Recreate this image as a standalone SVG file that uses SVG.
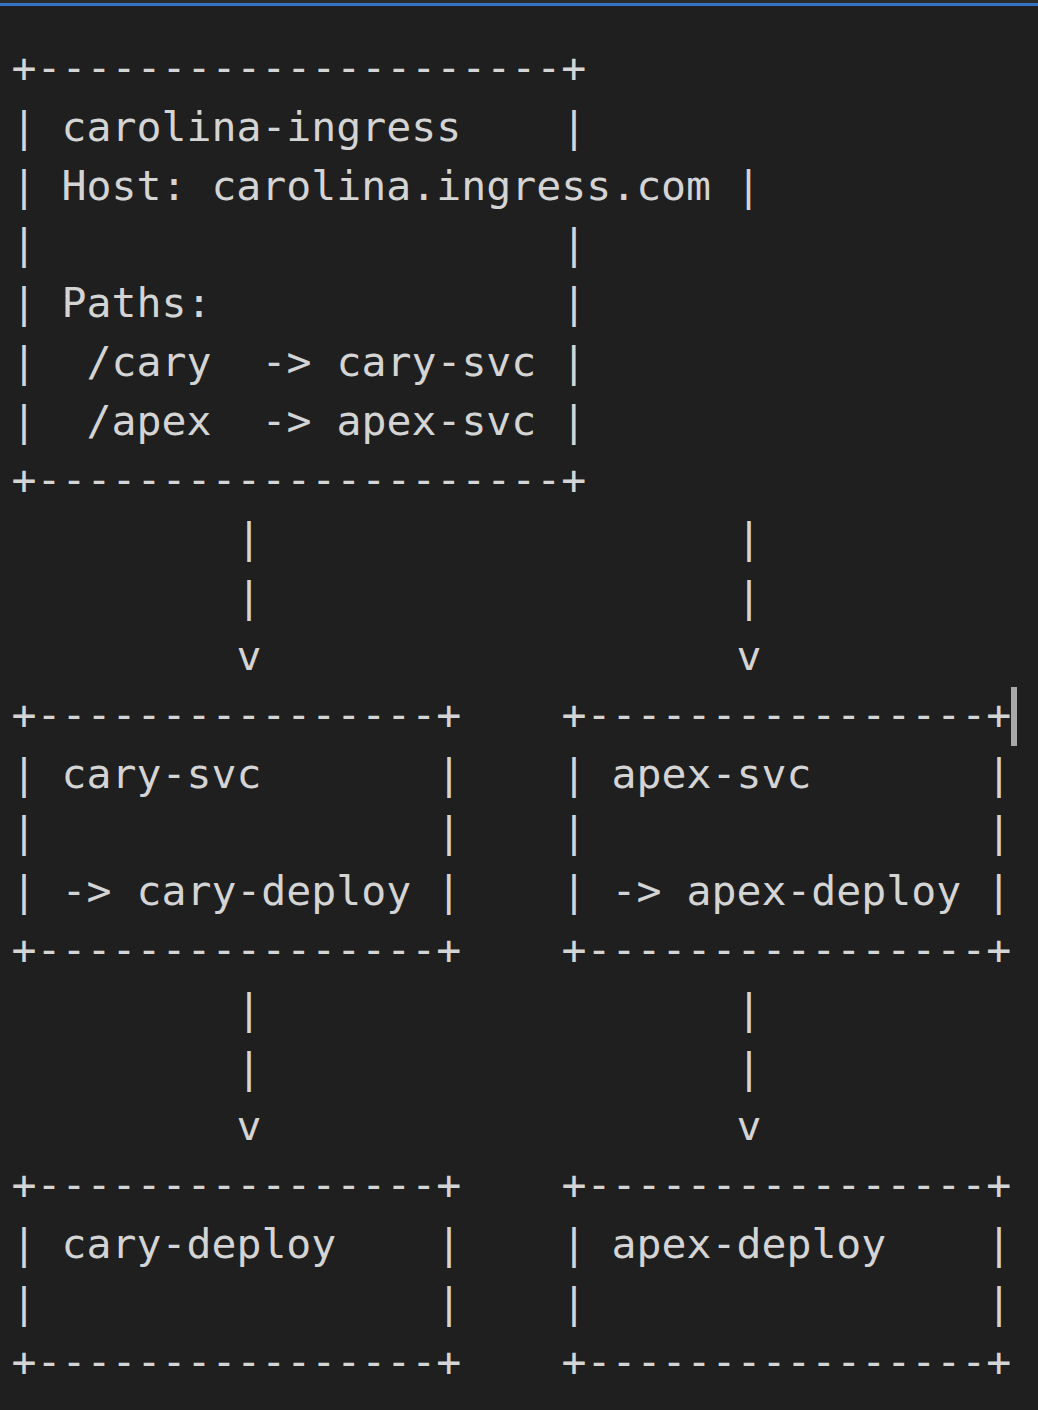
<svg xmlns="http://www.w3.org/2000/svg" width="1038" height="1410" viewBox="0 0 1038 1410">
<style>
.t{font-family:"DejaVu Sans Mono","Liberation Mono",monospace;font-size:41.5px;fill:#d4d4d4}
</style>
<rect x="0" y="0" width="1038" height="1410" fill="#1f1f1f"/>
<rect x="0" y="0" width="1038" height="3" fill="#2b2b2b"/>
<rect x="0" y="3" width="1038" height="3" fill="#3574c4"/>
<g id="ingress" class="t">
<text x="11.5" y="82">+---------------------+</text>
<text x="11.5" y="140.8">|</text><text x="61.5" y="140.8">carolina-ingress</text><text x="561.5" y="140.8">|</text>
<text x="11.5" y="199.6">| Host: carolina.ingress.com |</text>
<text x="11.5" y="258.4">|</text><text x="561.5" y="258.4">|</text>
<text x="11.5" y="317.2">|</text><text x="61.5" y="317.2">Paths:</text><text x="561.5" y="317.2">|</text>
<text x="11.5" y="376">|</text><text x="86.5" y="376">/cary</text><text x="261.5" y="376">-&gt; cary-svc |</text>
<text x="11.5" y="434.8">|</text><text x="86.5" y="434.8">/apex</text><text x="261.5" y="434.8">-&gt; apex-svc |</text>
<text x="11.5" y="493.6">+---------------------+</text>
</g>
<g id="connectors" class="t">
<text x="236.5" y="552.4">|</text>
<text x="236.5" y="611.2">|</text>
<text x="236.5" y="670">v</text>
<text x="736.5" y="552.4">|</text>
<text x="736.5" y="611.2">|</text>
<text x="736.5" y="670">v</text>
<text x="236.5" y="1022.8">|</text>
<text x="236.5" y="1081.6">|</text>
<text x="236.5" y="1140.4">v</text>
<text x="736.5" y="1022.8">|</text>
<text x="736.5" y="1081.6">|</text>
<text x="736.5" y="1140.4">v</text>
</g>
<g id="cary-svc" class="t">
<text x="11.5" y="728.8">+----------------+</text>
<text x="11.5" y="787.6">|</text><text x="61.5" y="787.6">cary-svc</text><text x="436.5" y="787.6">|</text>
<text x="11.5" y="846.4">|</text><text x="436.5" y="846.4">|</text>
<text x="11.5" y="905.2">| -&gt; cary-deploy |</text>
<text x="11.5" y="964">+----------------+</text>
</g>
<g id="apex-svc" class="t">
<text x="561.5" y="728.8">+----------------+</text>
<text x="561.5" y="787.6">|</text><text x="611.5" y="787.6">apex-svc</text><text x="986.5" y="787.6">|</text>
<text x="561.5" y="846.4">|</text><text x="986.5" y="846.4">|</text>
<text x="561.5" y="905.2">| -&gt; apex-deploy |</text>
<text x="561.5" y="964">+----------------+</text>
</g>
<g id="cary-deploy" class="t">
<text x="11.5" y="1199.2">+----------------+</text>
<text x="11.5" y="1258">|</text><text x="61.5" y="1258">cary-deploy</text><text x="436.5" y="1258">|</text>
<text x="11.5" y="1316.8">|</text><text x="436.5" y="1316.8">|</text>
<text x="11.5" y="1375.6">+----------------+</text>
</g>
<g id="apex-deploy" class="t">
<text x="561.5" y="1199.2">+----------------+</text>
<text x="561.5" y="1258">|</text><text x="611.5" y="1258">apex-deploy</text><text x="986.5" y="1258">|</text>
<text x="561.5" y="1316.8">|</text><text x="986.5" y="1316.8">|</text>
<text x="561.5" y="1375.6">+----------------+</text>
</g>
<rect x="1011" y="687" width="6" height="59" fill="#a8a8a8"/>
</svg>
